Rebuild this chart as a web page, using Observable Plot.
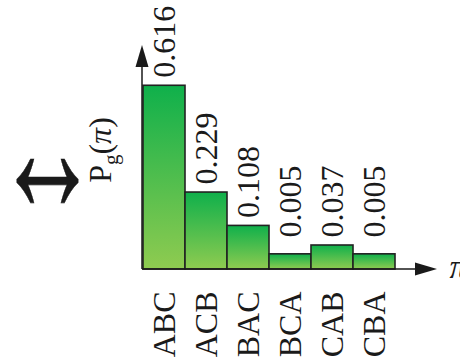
<!DOCTYPE html>
<html>
<head>
<meta charset="utf-8">
<script src="https://cdn.jsdelivr.net/npm/d3@7"></script>
<script src="https://cdn.jsdelivr.net/npm/@observablehq/plot@0.6"></script>
<style>
  html, body { margin: 0; padding: 0; background: #fff; }
  #chart svg { display: block; }
</style>
</head>
<body>
<div id="chart"></div>
<script>
// Data
const categories = ["ABC", "ACB", "BAC", "BCA", "CAB", "CBA"];
const values = [0.616, 0.229, 0.108, 0.005, 0.037, 0.005];
const valueLabels = ["0.616", "0.229", "0.108", "0.005", "0.037", "0.005"];
const yLabelMain = "P";
const yLabelSub = "g";
const yLabelArg = "π";
const xLabel = "π";
const equivSymbol = "↔";

// Schematic baseline: bars start below zero so small bars stay visible
const baseline = -0.05;
const labelFloor = 0.037;

const data = categories.map((c, i) => ({cat: c, value: values[i], label: valueLabels[i]}));

const font = "'Liberation Serif', 'Times New Roman', serif";
const ink = "#1a1a1a";

// gradient defs
const defs = () => {
  const g = d3.create("svg:defs");
  const lg = g.append("linearGradient")
    .attr("id", "barGrad")
    .attr("x1", 0).attr("y1", 0).attr("x2", 0).attr("y2", 1);
  lg.append("stop").attr("offset", "0%").attr("stop-color", "#0fb04b");
  lg.append("stop").attr("offset", "100%").attr("stop-color", "#8fcb50");
  return g.node();
};

// axis arrows built from the scales
const axes = (index, scales, values, dims) => {
  const g = d3.create("svg:g").attr("fill", ink).attr("stroke", ink);
  const x0 = dims.marginLeft;
  const y0 = dims.height - dims.marginBottom;
  const yTop = dims.marginTop;
  const xEnd = dims.width - dims.marginRight + 41;
  const head = 22, half = 6.5;
  g.append("line").attr("x1", x0).attr("y1", y0).attr("x2", x0).attr("y2", yTop + head - 1)
    .attr("stroke-width", 1.5);
  g.append("path").attr("stroke", "none")
    .attr("d", `M${x0},${yTop}L${x0 - half},${yTop + head}L${x0 + half},${yTop + head}Z`);
  g.append("line").attr("x1", x0).attr("y1", y0).attr("x2", xEnd - head + 1).attr("y2", y0)
    .attr("stroke-width", 1.5);
  g.append("path").attr("stroke", "none")
    .attr("d", `M${xEnd},${y0}L${xEnd - head},${y0 - half}L${xEnd - head},${y0 + half}Z`);
  return g.node();
};

// y label with subscript
const yLabel = (index, scales, values, dims) => {
  const cx = dims.marginLeft - 31;
  const cy = dims.height - dims.marginBottom - 119;
  const t = d3.create("svg:text")
    .attr("transform", `translate(${cx},${cy}) rotate(-90)`)
    .attr("font-family", font).attr("font-size", 32).attr("fill", ink);
  t.append("tspan").text(yLabelMain);
  t.append("tspan").attr("font-size", 21).attr("dy", 7).text(yLabelSub);
  t.append("tspan").attr("dy", -7).text("(");
  t.append("tspan").attr("font-style", "italic").text(yLabelArg);
  t.append("tspan").text(")");
  return t.node();
};

// equivalence arrow (text glyph, stretched to the reference's proportions)
const equiv = (index, scales, values, dims) => {
  const cx = 47.5;
  const cy = dims.marginTop + 167;
  const g = d3.create("svg:g")
    .attr("transform", `translate(${cx},${cy}) scale(1,1.8)`);
  g.append("text")
    .attr("font-family", font)
    .attr("font-size", 104)
    .attr("text-anchor", "middle")
    .attr("fill", ink).attr("stroke", ink).attr("stroke-width", 0.3)
    .text(equivSymbol);
  return g.node();
};

const chart = Plot.plot({
  width: 460,
  height: 359,
  marginLeft: 142,
  marginRight: 64,
  marginTop: 45,
  marginBottom: 90,
  style: {background: "#fff", fontFamily: font, color: ink},
  x: {type: "band", domain: categories, padding: 0, axis: null},
  y: {domain: [baseline, 0.762], axis: null},
  marks: [
    defs,
    Plot.barY(data, {
      x: "cat", y1: () => baseline, y2: "value",
      fill: "url(#barGrad)", stroke: "#222", strokeWidth: 1.6
    }),
    axes,
    Plot.text(data, {
      x: "cat", y: d => Math.max(d.value, labelFloor), text: "label",
      rotate: -90, textAnchor: "start", lineAnchor: "middle", dy: -8,
      fontSize: 32, fill: ink
    }),
    Plot.text(data, {
      x: "cat", frameAnchor: "bottom", text: "cat",
      rotate: -90, textAnchor: "end", lineAnchor: "middle", dy: 22,
      fontSize: 32, fill: ink
    }),
    Plot.text([xLabel], {
      frameAnchor: "bottom-right", text: d => d, dx: 53, dy: -2,
      textAnchor: "start", lineAnchor: "middle",
      fontSize: 34, fontStyle: "italic", fill: ink
    }),
    equiv,
    yLabel
  ]
});
document.getElementById("chart").appendChild(chart);
</script>
</body>
</html>
